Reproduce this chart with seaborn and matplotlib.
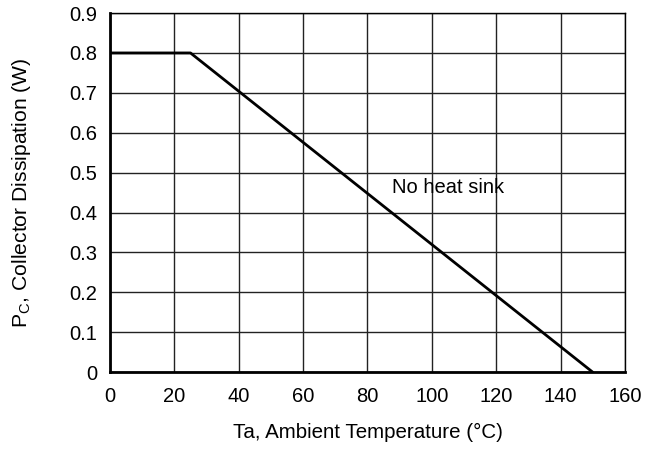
import matplotlib
matplotlib.use("Agg")
import matplotlib.pyplot as plt
import seaborn as sns
import pandas as pd

# Derating curve
temp = [0, 25, 150]
power = [0.8, 0.8, 0.0]
x_ticks = [0, 20, 40, 60, 80, 100, 120, 140, 160]
y_ticks = [0, 0.1, 0.2, 0.3, 0.4, 0.5, 0.6, 0.7, 0.8, 0.9]
y_labels = ["0", "0.1", "0.2", "0.3", "0.4", "0.5", "0.6", "0.7", "0.8", "0.9"]

sns.set_style("white")
plt.rcParams["font.family"] = ["Liberation Sans", "DejaVu Sans"]
plt.rcParams["text.color"] = "black"
plt.rcParams["axes.labelcolor"] = "black"

df = pd.DataFrame({"Ta": temp, "Pc": power})

fig = plt.figure(figsize=(6.55, 4.5), dpi=100)
ax = fig.add_axes([0.168, 0.173, 0.786, 0.798])

sns.lineplot(data=df, x="Ta", y="Pc", ax=ax, color="black", linewidth=2, sort=False)

ax.set_xlim(0, 160)
ax.set_ylim(0, 0.9)
ax.set_xticks(x_ticks)
ax.set_yticks(y_ticks)
ax.set_yticklabels(y_labels)
ax.tick_params(labelsize=14.5, length=0, colors="black")
ax.tick_params(axis="x", pad=11)
ax.tick_params(axis="y", pad=9)
ax.grid(True, color="#222222", linewidth=1)
ax.set_axisbelow(True)

for side in ["top", "right"]:
    ax.spines[side].set_linewidth(1)
    ax.spines[side].set_color("black")
for side in ["left", "bottom"]:
    ax.spines[side].set_linewidth(2)
    ax.spines[side].set_color("black")

ax.set_xlabel("Ta, Ambient Temperature (°C)", fontsize=14.8, labelpad=12)
ax.set_ylabel("P$_\\mathregular{C}$, Collector Dissipation (W)", fontsize=15.2, labelpad=26)

ax.text(87.5, 0.462, "No heat sink", fontsize=14.5, va="center", ha="left")

fig.savefig("out.png", dpi=100)
